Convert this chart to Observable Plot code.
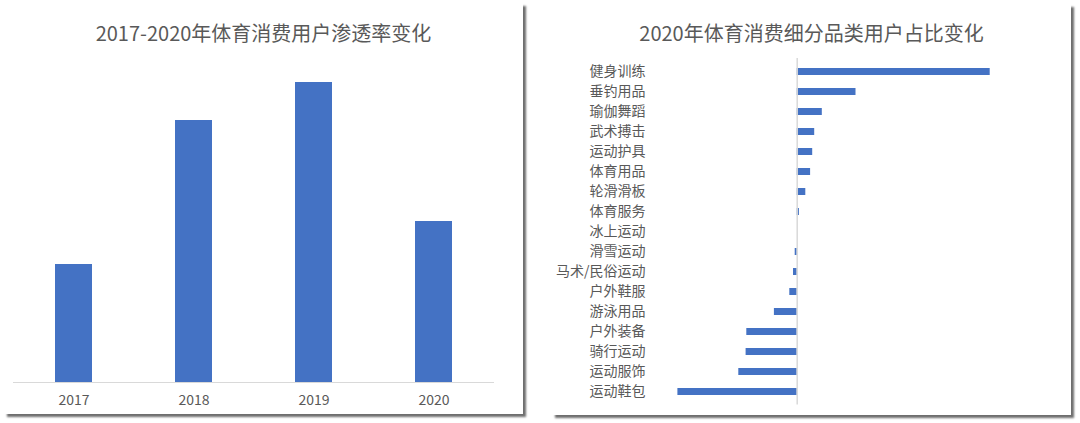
<!DOCTYPE html>
<html>
<head>
<meta charset="utf-8">
<script src="https://cdn.jsdelivr.net/npm/d3@7"></script>
<script src="https://cdn.jsdelivr.net/npm/@observablehq/plot@0.6"></script>
<style>
  html, body { margin: 0; padding: 0; background: #ffffff; width: 1080px; height: 423px; overflow: hidden; }
  body { position: relative; font-family: "Noto Sans CJK SC", "Noto Sans", sans-serif; }
  .panel { position: absolute; background: #ffffff; box-shadow: 3px 3px 2px #6e6e6e; }
  .title { text-align: center; color: #595959; font-size: 20px; line-height: 20px; }
  .panel svg { display: block; }
</style>
</head>
<body>
<div id="left" class="panel" style="left:4px; top:3px; width:519px; height:411px;">
  <div class="title" style="height:52px; position:relative;"><span style="position:absolute; left:0; right:0; top:20px; font-size:20px;">2017-2020年体育消费用户渗透率变化</span></div>
</div>
<div id="right" class="panel" style="left:552px; top:4px; width:519px; height:411px;">
  <div class="title" style="height:51px; position:relative;"><span style="position:absolute; left:0; right:0; top:19px;">2020年体育消费细分品类用户占比变化</span></div>
</div>
<script>
// Left chart data
const years = ["2017", "2018", "2019", "2020"];
const penetration = [11.8, 26.2, 30.0, 16.1];

// Right chart data
const categories = ["健身训练", "垂钓用品", "瑜伽舞蹈", "武术搏击", "运动护具", "体育用品", "轮滑滑板", "体育服务", "冰上运动", "滑雪运动", "马术/民俗运动", "户外鞋服", "游泳用品", "户外装备", "骑行运动", "运动服饰", "运动鞋包"];
const shareChange = [19.3, 5.88, 2.51, 1.75, 1.55, 1.34, 0.86, 0.22, 0, -0.2, -0.37, -0.74, -2.28, -5.04, -5.11, -5.84, -11.93];

const barColor = "#4472C4";
const textColor = "#595959";

const leftData = years.map((y, i) => ({year: y, value: penetration[i]}));
const rightData = categories.map((c, i) => ({cat: c, value: shareChange[i]}));

const leftPlot = Plot.plot({
  width: 519,
  height: 359,
  marginLeft: 9,
  marginRight: 29,
  marginTop: 27,
  marginBottom: 32,
  style: {fontFamily: '"Noto Sans CJK SC", "Noto Sans", sans-serif', color: textColor, background: "transparent"},
  x: {domain: years, paddingInner: 0.69, paddingOuter: 0.345, label: null},
  y: {domain: [0, 30], axis: null},
  marks: [
    Plot.barY(leftData, {x: "year", y: "value", fill: barColor}),
    Plot.ruleY([0], {stroke: "#d9d9d9", strokeWidth: 1}),
    Plot.axisX({tickSize: 0, tickPadding: 13, fontSize: 14, fill: textColor, label: null})
  ]
});
document.getElementById("left").appendChild(leftPlot);

const rightPlot = Plot.plot({
  width: 519,
  height: 360,
  marginLeft: 104.7,
  marginRight: 54.3,
  marginTop: 3,
  marginBottom: 10.5,
  style: {fontFamily: '"Noto Sans CJK SC", "Noto Sans", sans-serif', color: textColor, background: "transparent"},
  x: {domain: [-14, 22], axis: null},
  y: {domain: categories, paddingInner: 0.66, paddingOuter: 0.33, label: null},
  marks: [
    Plot.barX(rightData, {y: "cat", x: "value", fill: barColor}),
    Plot.ruleX([0], {stroke: "#d9d9d9", strokeWidth: 1.5}),
    Plot.axisY({tickSize: 0, tickPadding: 11.7, fontSize: 14, fill: textColor, label: null})
  ]
});
document.getElementById("right").appendChild(rightPlot);
</script>
</body>
</html>
